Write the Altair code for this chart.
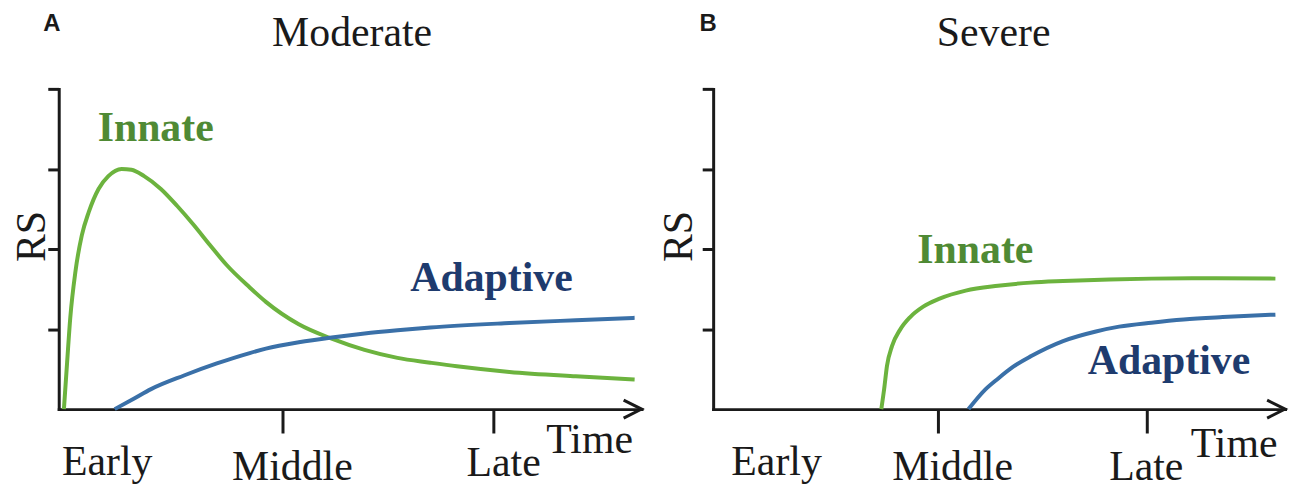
import altair as alt
import pandas as pd

GREEN = "#6cb33e"
BLUE = "#3a70a8"
GREEN_TXT = "#4f8a34"
BLUE_TXT = "#1e3b6e"
INK = "#1a1a1a"
SERIF = "Liberation Serif"
SANS = "Liberation Sans"

# ---------------- Panel A: Moderate ----------------
a_innate_t = [0.09, 0.145, 0.20, 0.29, 0.40, 0.52, 0.69, 0.86, 1.09, 1.26, 1.48, 1.77, 2.05,
              2.34, 2.62, 2.91, 3.31, 3.59, 4.16, 4.73, 5.30, 5.87, 6.44, 6.90, 7.81, 8.96, 9.98]
a_innate_rs = [0.00, 0.58, 1.14, 1.72, 2.17, 2.46, 2.75, 2.91, 3.00, 2.99, 2.91, 2.75, 2.54,
               2.30, 2.05, 1.80, 1.52, 1.34, 1.06, 0.88, 0.74, 0.64, 0.58, 0.535, 0.465, 0.41, 0.37]
a_adapt_t = [0.97, 1.30, 1.60, 2.17, 2.74, 3.31, 3.59, 4.16, 4.73, 5.30, 5.87, 6.44, 7.81, 8.96, 9.98]
a_adapt_rs = [0.00, 0.13, 0.25, 0.42, 0.57, 0.70, 0.755, 0.835, 0.895, 0.945, 0.985, 1.02,
              1.075, 1.11, 1.14]
a_ticks = [3.88, 7.54]
a_lab_t = [0.84, 4.05, 7.71, 9.20]
a_lab_rs = [-0.82, -0.88, -0.83, -0.55]
a_series_t = [1.68, 7.50]
a_series_rs = [3.35, 1.48]

# ---------------- Panel B: Severe ----------------
b_innate_t = [2.97, 3.02, 3.07, 3.16, 3.30, 3.48, 3.71, 4.00, 4.46, 5.03, 5.61, 6.18, 7.00,
              7.74, 8.89, 9.93]
b_innate_rs = [0.00, 0.25, 0.54, 0.79, 0.99, 1.15, 1.28, 1.38, 1.48, 1.54, 1.58, 1.60, 1.62,
               1.63, 1.635, 1.63]
b_adapt_t = [4.51, 4.80, 5.03, 5.30, 5.61, 6.18, 6.76, 7.17, 7.74, 8.31, 9.00, 9.93]
b_adapt_rs = [0.00, 0.24, 0.38, 0.53, 0.66, 0.85, 0.97, 1.03, 1.08, 1.12, 1.15, 1.18]
b_ticks = [3.97, 7.65]
b_lab_t = [1.12, 4.23, 7.65, 9.20]
b_lab_rs = [-0.82, -0.88, -0.88, -0.60]
b_series_t = [4.63, 8.05]
b_series_rs = [1.83, 0.44]

time_labels = ["Early", "Middle", "Late", "Time"]
series_names = ["Innate", "Adaptive"]


def panel(letter, title, it, irs, at, ars, ticks, lab_t, lab_rs, ser_t, ser_rs,
          width, title_x, letter_x, rs_x):
    height = 322
    x_enc = alt.X("t:Q",
                  scale=alt.Scale(domain=[0, 10.1], nice=False, zero=False),
                  axis=alt.Axis(values=ticks, labels=False, grid=False, title=None,
                                tickSize=24, tickWidth=3, tickColor=INK,
                                domainWidth=3, domainColor=INK, domainCap="square"))
    y_enc = alt.Y("rs:Q",
                  scale=alt.Scale(domain=[0, 4], nice=False),
                  axis=alt.Axis(values=[1, 2, 3, 4], labels=False, grid=False,
                                tickSize=11, tickWidth=3, tickColor=INK,
                                domainWidth=3, domainColor=INK, domainCap="square",
                                title="RS", titleFont=SERIF, titleFontSize=42,
                                titleFontWeight="normal", titleColor=INK,
                                titleAngle=270, titleX=rs_x, titleY=148,
                                titleAlign="center", titleBaseline="alphabetic"))

    lines_df = pd.concat([
        pd.DataFrame({"t": it, "rs": irs, "series": "Innate"}),
        pd.DataFrame({"t": at, "rs": ars, "series": "Adaptive"}),
    ])
    lines = alt.Chart(lines_df).mark_line(strokeWidth=4, interpolate="monotone").encode(
        x=x_enc, y=y_enc,
        color=alt.Color("series:N", scale=alt.Scale(domain=series_names, range=[GREEN, BLUE]),
                        legend=None),
    )

    ser_df = pd.DataFrame({"t": ser_t, "rs": ser_rs, "label": series_names})
    innate_lab = alt.Chart(ser_df).transform_filter(alt.datum.label == "Innate").mark_text(
        font=SERIF, fontSize=42, fontWeight="bold", color=GREEN_TXT, baseline="alphabetic"
    ).encode(x=x_enc, y=y_enc, text="label:N")
    adapt_lab = alt.Chart(ser_df).transform_filter(alt.datum.label == "Adaptive").mark_text(
        font=SERIF, fontSize=42, fontWeight="bold", color=BLUE_TXT, baseline="alphabetic"
    ).encode(x=x_enc, y=y_enc, text="label:N")

    lab_df = pd.DataFrame({"t": lab_t, "rs": lab_rs, "label": time_labels})
    tick_labels = alt.Chart(lab_df).mark_text(
        font=SERIF, fontSize=42, color=INK, baseline="alphabetic"
    ).encode(x=x_enc, y=y_enc, text="label:N")

    arrow = alt.Chart(pd.DataFrame({"t": [10.1], "rs": [0.0]})).mark_point(
        shape="M-2,-1L0,0L-2,1", filled=False, stroke=INK, strokeWidth=3,
        size=324, opacity=1, strokeJoin="miter"
    ).encode(x=x_enc, y=y_enc)

    head = alt.Chart(pd.DataFrame({"label": [title]})).mark_text(
        font=SERIF, fontSize=42, color=INK, baseline="alphabetic", align="center"
    ).encode(x=alt.value(title_x), y=alt.value(-43), text="label:N")

    let = alt.Chart(pd.DataFrame({"label": [letter]})).mark_text(
        font=SANS, fontSize=24, fontWeight="bold", color=INK, baseline="alphabetic", align="center"
    ).encode(x=alt.value(letter_x), y=alt.value(-58), text="label:N")

    return alt.layer(lines, innate_lab, adapt_lab, tick_labels, arrow, head, let).properties(
        width=width, height=height)


pa = panel("A", "Moderate", a_innate_t, a_innate_rs, a_adapt_t, a_adapt_rs, a_ticks,
           a_lab_t, a_lab_rs, a_series_t, a_series_rs, 586, 295, -7, -14)
pb = panel("B", "Severe", b_innate_t, b_innate_rs, b_adapt_t, b_adapt_rs, b_ticks,
           b_lab_t, b_lab_rs, b_series_t, b_series_rs, 575, 282, -5, -22)

chart = alt.hconcat(pa, pb, spacing=10).properties(
    padding={"left": 3, "top": 3, "right": 0, "bottom": 0}
).configure_view(stroke=None)

chart.save("out.html", embed_options={"renderer": "svg", "actions": False})
